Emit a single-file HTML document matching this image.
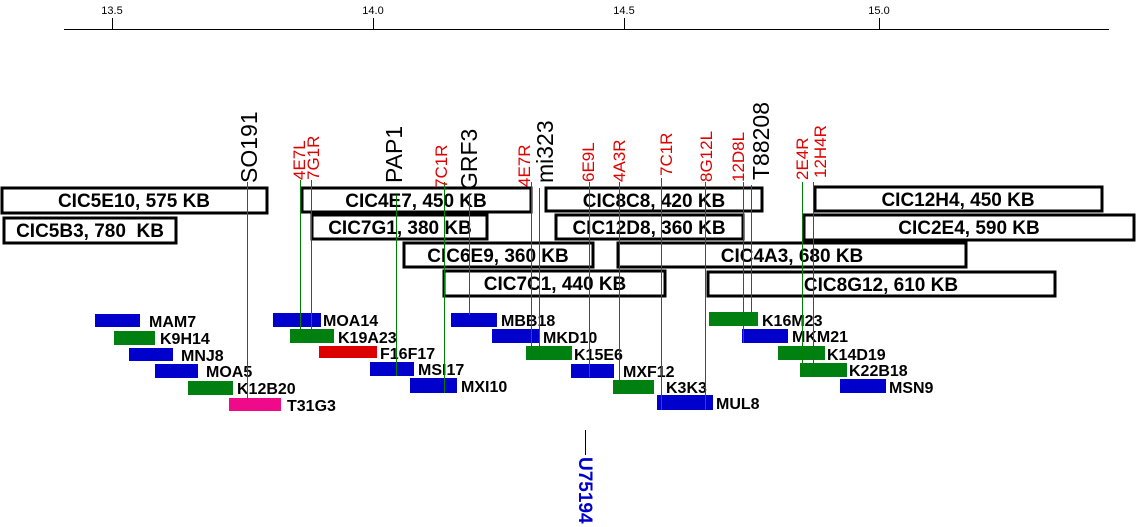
<!DOCTYPE html>
<html><head><meta charset="utf-8"><style>
html,body{margin:0;padding:0;background:#fff;}
svg{display:block;}
.bx{fill:#fff;stroke:#000;stroke-width:3;}
.bt{font:bold 19px "Liberation Sans",sans-serif;fill:#000;text-anchor:middle;}
.sl{font:bold 16px "Liberation Sans",sans-serif;fill:#000;}
.ax{font:11px "Liberation Sans",sans-serif;fill:#000;text-anchor:middle;}
.rl{font:17px "Liberation Sans",sans-serif;fill:#e00000;}
.kl{font:23px "Liberation Sans",sans-serif;fill:#000;}
.g{stroke:#008000;stroke-width:1;}
</style></head><body>
<svg width="1137" height="527" viewBox="0 0 1137 527" xmlns="http://www.w3.org/2000/svg">
<line x1="64" y1="29.5" x2="1109" y2="29.5" stroke="#000" stroke-width="1"/>
<g stroke="#000"><line x1="112.5" y1="18" x2="112.5" y2="29"/><line x1="373.5" y1="18" x2="373.5" y2="29"/><line x1="624.5" y1="18" x2="624.5" y2="29"/><line x1="879.5" y1="18" x2="879.5" y2="29"/></g>
<text class="ax" x="112" y="14">13.5</text><text class="ax" x="373" y="14">14.0</text><text class="ax" x="624" y="14">14.5</text><text class="ax" x="879" y="14">15.0</text>

<rect class="bx" x="2" y="188" width="265" height="25"/><text class="bt" x="134" y="207">CIC5E10, 575 KB</text>
<rect class="bx" x="4" y="218" width="172" height="25"/><text class="bt" x="90" y="237">CIC5B3, 780&#160; KB</text>
<rect class="bx" x="302" y="188" width="229" height="24"/><text class="bt" x="416" y="207">CIC4E7, 450 KB</text>
<rect class="bx" x="312" y="215" width="175" height="24"/><text class="bt" x="400" y="234">CIC7G1, 380 KB</text>
<rect class="bx" x="404" y="243" width="189" height="24"/><text class="bt" x="498" y="262">CIC6E9, 360 KB</text>
<rect class="bx" x="444" y="271" width="221" height="25"/><text class="bt" x="555" y="290">CIC7C1, 440 KB</text>
<rect class="bx" x="546" y="188" width="216" height="23"/><text class="bt" x="654" y="207">CIC8C8, 420 KB</text>
<rect class="bx" x="556" y="215" width="187" height="24"/><text class="bt" x="649" y="234">CIC12D8, 360 KB</text>
<rect class="bx" x="618" y="243" width="348" height="24"/><text class="bt" x="792" y="262">CIC4A3, 680 KB</text>
<rect class="bx" x="708" y="272" width="347" height="24"/><text class="bt" x="881" y="291">CIC8G12, 610 KB</text>
<rect class="bx" x="815" y="187" width="287" height="24"/><text class="bt" x="958" y="206">CIC12H4, 450 KB</text>
<rect class="bx" x="804" y="215" width="330" height="25"/><text class="bt" x="969" y="234">CIC2E4, 590 KB</text>

<g>
<rect x="95" y="314" width="45" height="13" fill="#0000cc"/><text class="sl" x="149" y="327">MAM7</text>
<rect x="114" y="331" width="41" height="14" fill="#008010"/><text class="sl" x="160" y="344">K9H14</text>
<rect x="129" y="348" width="44" height="13" fill="#0000cc"/><text class="sl" x="181" y="361">MNJ8</text>
<rect x="155" y="364" width="43" height="14" fill="#0000cc"/><text class="sl" x="206" y="377">MOA5</text>
<rect x="188" y="381" width="45" height="14" fill="#008010"/><text class="sl" x="237" y="394">K12B20</text>
<rect x="229" y="398" width="52" height="13" fill="#ee0a88"/><text class="sl" x="287" y="411">T31G3</text>
<rect x="273" y="313" width="48" height="14" fill="#0000cc"/><text class="sl" x="323" y="326">MOA14</text>
<rect x="290" y="329" width="44" height="14" fill="#008010"/><text class="sl" x="338" y="343">K19A23</text>
<rect x="319" y="346" width="58" height="12" fill="#dd0000"/><text class="sl" x="380" y="359">F16F17</text>
<rect x="370" y="362" width="44" height="14" fill="#0000cc"/><text class="sl" x="418" y="375">MSI17</text>
<rect x="410" y="378" width="47" height="15" fill="#0000cc"/><text class="sl" x="461" y="392">MXI10</text>
<rect x="451" y="313" width="46" height="14" fill="#0000cc"/><text class="sl" x="501" y="326">MBB18</text>
<rect x="492" y="329" width="47" height="14" fill="#0000cc"/><text class="sl" x="543" y="343">MKD10</text>
<rect x="526" y="346" width="46" height="14" fill="#008010"/><text class="sl" x="574" y="360">K15E6</text>
<rect x="571" y="364" width="43" height="14" fill="#0000cc"/><text class="sl" x="623" y="377">MXF12</text>
<rect x="613" y="380" width="41" height="14" fill="#008010"/><text class="sl" x="666" y="393">K3K3</text>
<rect x="657" y="395" width="56" height="15" fill="#0000cc"/><text class="sl" x="716" y="409">MUL8</text>
<rect x="709" y="312" width="49" height="14" fill="#008010"/><text class="sl" x="762" y="326">K16M23</text>
<rect x="742" y="329" width="46" height="14" fill="#0000cc"/><text class="sl" x="792" y="342">MKM21</text>
<rect x="778" y="346" width="47" height="14" fill="#008010"/><text class="sl" x="827" y="360">K14D19</text>
<rect x="800" y="363" width="47" height="14" fill="#008010"/><text class="sl" x="849" y="376">K22B18</text>
<rect x="840" y="379" width="46" height="14" fill="#0000cc"/><text class="sl" x="889" y="393">MSN9</text>
</g>

<g class="g">
<line x1="247.5" y1="182" x2="247.5" y2="400"/>
<line x1="300.5" y1="180" x2="300.5" y2="343"/>
<line x1="311.5" y1="180" x2="311.5" y2="343"/>
<line x1="396.5" y1="195" x2="396.5" y2="376"/>
<line x1="444.5" y1="182" x2="444.5" y2="393"/>
<line x1="469.5" y1="195" x2="469.5" y2="315"/>
<line x1="531.5" y1="182" x2="531.5" y2="360"/>
<line x1="539.5" y1="188" x2="539.5" y2="360"/>
<line x1="589.5" y1="182" x2="589.5" y2="377"/>
<line x1="619.5" y1="182" x2="619.5" y2="394"/>
<line x1="661.5" y1="178" x2="661.5" y2="410"/>
<line x1="705.5" y1="182" x2="705.5" y2="410"/>
<line x1="743.5" y1="182" x2="743.5" y2="343"/>
<line x1="751.5" y1="185" x2="751.5" y2="326"/>
<line x1="802.5" y1="182" x2="802.5" y2="377"/>
<line x1="813.5" y1="182" x2="813.5" y2="377"/>
</g>

<text class="kl" transform="translate(257,183) rotate(-90)">SO191</text>
<text class="rl" transform="translate(305,180) rotate(-90)">4E7L</text>
<text class="rl" transform="translate(319,180) rotate(-90)">7G1R</text>
<text class="kl" transform="translate(402,183) rotate(-90)">PAP1</text>
<text class="rl" transform="translate(447,188) rotate(-90)">7C1R</text>
<text class="kl" transform="translate(477,190) rotate(-90)">GRF3</text>
<text class="rl" transform="translate(530,187) rotate(-90)">4E7R</text>
<text class="kl" transform="translate(553,183) rotate(-90)">mi323</text>
<text class="rl" transform="translate(594,182) rotate(-90)">6E9L</text>
<text class="rl" transform="translate(625,182) rotate(-90)">4A3R</text>
<text class="rl" transform="translate(672,176) rotate(-90)">7C1R</text>
<text class="rl" transform="translate(712,182) rotate(-90)">8G12L</text>
<text class="rl" transform="translate(744,182) rotate(-90)">12D8L</text>
<text class="kl" transform="translate(769,180) rotate(-90)">T88208</text>
<text class="rl" transform="translate(808,180) rotate(-90)">2E4R</text>
<text class="rl" transform="translate(826,178) rotate(-90)">12H4R</text>

<line x1="585.5" y1="430" x2="585.5" y2="455" stroke="#000"/>
<text transform="translate(579,457) rotate(90)" style="font:bold 19px 'Liberation Sans',sans-serif;fill:#0000cc;">U75194</text>
</svg>
</body></html>
